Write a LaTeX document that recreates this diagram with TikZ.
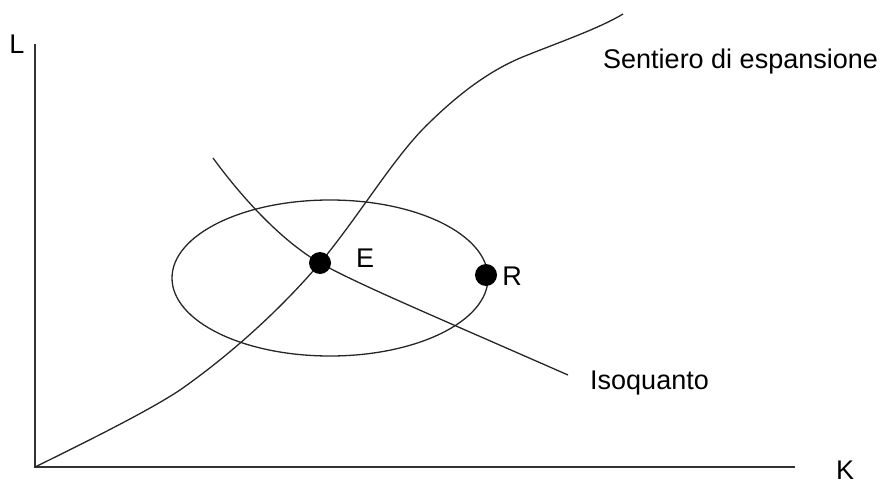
\documentclass[tikz,border=0pt]{standalone}
\usepackage{fontspec}
\setmainfont{Liberation Sans}
\begin{document}
\begin{tikzpicture}[x=1pt,y=-1pt,
  curve/.style={line width=1.3pt, black!85},
  axis/.style={line width=1.4pt, black!80},
  lab/.style={font=\fontsize{27}{30}\selectfont, inner sep=0pt},
  dot/.style={circle, fill=black, inner sep=0pt, minimum size=22pt}]
\useasboundingbox (0,0) rectangle (893,484);
\coordinate (O) at (35,467);
\coordinate (Ltop) at (35,44);
\coordinate (Kend) at (795,467);
\draw[axis] (Ltop) -- (O) -- (Kend);
\node[lab, anchor=base] (L) at (17,54) {L};
\node[lab, anchor=base] (K) at (845,479) {K};
% ellipse
\draw[curve] (330,278) ellipse [x radius=158, y radius=78];
% expansion path
\coordinate (P0) at (35,467);
\coordinate (P9) at (623,14);
\draw[curve] (P0) .. controls (90,440) and (150,410) .. (180,390)
  .. controls (230,355) and (280,310) .. (320,263)
  .. controls (360,215) and (395,155) .. (430,122)
  .. controls (465,88) and (495,68) .. (525,56)
  .. controls (560,42) and (600,28) .. (P9);
% isoquant
\coordinate (I0) at (213,158);
\coordinate (I1) at (568,375);
\draw[curve] (I0) .. controls (240,195) and (280,240) .. (320,263)
  .. controls (360,285) and (420,310) .. (I1);
\node[dot] (E) at (320,263) {};
\node[dot] (R) at (486,275) {};
\node[lab] (El) at (365,258) {E};
\node[lab] (Rl) at (512,276) {R};
\node[lab, anchor=west] (iso) at (590,383) {Isoquanto};
\node[lab, anchor=west] (sent) at (603,62) {Sentiero di espansione};
\end{tikzpicture}
\end{document}
